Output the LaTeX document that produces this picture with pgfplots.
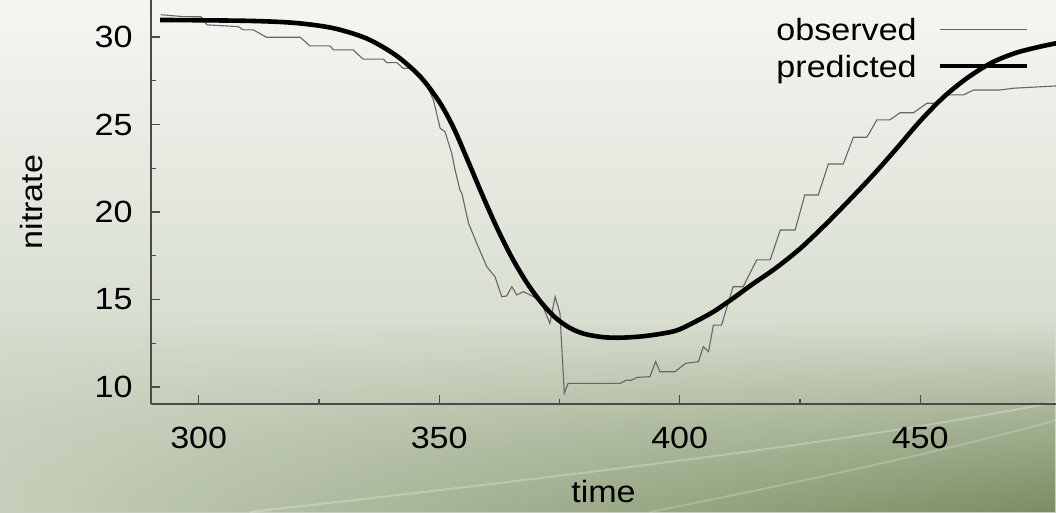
\documentclass[border=0pt]{standalone}
\usepackage{fontspec}
\setmainfont{Liberation Sans}[FakeStretch=1.11]
\usepackage{pgfplots}
\pgfplotsset{compat=1.18}
\usetikzlibrary{fadings}
\definecolor{bgTop}{HTML}{F5F6F2}
\definecolor{bgMid}{HTML}{EDF0E9}
\definecolor{bgBot}{HTML}{C6CFBB}
\definecolor{bgDark}{HTML}{7B8E62}
\definecolor{axisGrey}{HTML}{4A4A4A}
\newcommand\chartfont{\fontsize{30.7}{36}\selectfont}

\pgfplotsset{
  legend image code/.code={\draw[#1] (0pt,1pt) -- (87pt,1pt);},
}

\begin{document}
\begin{tikzpicture}[x=1pt,y=1pt]
% background
\shade[top color=bgTop, middle color=bgMid, bottom color=bgBot] (0,0) rectangle (1056,512);
\shade[left color=bgBot, right color=bgDark, path fading=north] (0,0) rectangle (1056,190);
\draw[white, opacity=0.25, line width=2pt] (250,0) .. controls (600,40) and (850,70) .. (1056,110);
\draw[white, opacity=0.2, line width=2pt] (650,0) .. controls (850,40) and (980,70) .. (1056,92);

\begin{axis}[
  at={(151pt,108pt)}, anchor=south west,
  scale only axis, width=905pt, height=404pt,
  xmin=290.08, xmax=478.23, ymin=9.03, ymax=32.11,
  axis x line=bottom, axis y line=left,
  axis line style={-, line width=1.6pt, draw=axisGrey},
  tick align=inside,
  xtick={300,350,400,450}, ytick={10,15,20,25,30},
  minor x tick num=1, minor y tick num=1,
  major tick length=9pt, minor tick length=5pt,
  every tick/.style={axisGrey, line width=1.3pt},
  ticklabel style={font=\chartfont},
  xticklabel style={yshift=-20pt},
  yticklabel style={xshift=-15pt},
  /pgf/number format/assume math mode=true,
  xlabel={time}, ylabel={nitrate},
  label style={font=\chartfont},
  xlabel style={at={(axis description cs:0.5,-0.2178)}, anchor=center},
  ylabel style={at={(axis description cs:-0.1315,0.5)}, anchor=center},
  legend style={draw=none, fill=none, font=\chartfont,
    at={(axis description cs:0.974,0.965)}, anchor=north east,
    row sep=9pt, column sep=19pt},
  legend cell align=right,
  legend plot pos=right,
]
\addplot[line width=1.1pt, color=black!60, sharp plot] coordinates {
(292.1,31.27) (296.8,31.16) (300.5,31.15) (301.7,30.69) (308.2,30.59)
(309.3,30.40) (311.4,30.40) (314.1,29.98) (321.1,29.98) (323.1,29.49)
(327.3,29.49) (328.0,29.26) (332.1,29.26) (334.2,28.73) (338.4,28.73)
(339.1,28.53) (341.2,28.53) (342.5,28.21) (344.5,28.21) (345.7,27.89)
(346.7,27.64) (348.8,26.40) (350.2,24.78) (351.2,24.59) (352.6,23.35)
(353.3,22.40) (354.3,21.26) (354.7,21.07) (356.1,19.35) (357.8,18.21)
(359.9,16.87) (361.6,16.30) (363.0,15.16) (364.0,15.20) (365.1,15.73)
(366.1,15.26) (367.5,15.45) (369.6,15.16) (371.3,14.78) (372.0,14.30)
(373.0,13.64) (374.1,15.16) (375.1,14.21) (376.0,9.64) (376.8,10.21)
(382.0,10.21) (387.6,10.21) (389.0,10.40) (389.9,10.38) (391.1,10.55)
(393.8,10.59) (395.0,11.45) (395.9,10.87) (399.0,10.87) (401.2,11.35)
(403.9,11.45) (404.9,12.30) (406.0,12.02) (407.0,13.54) (408.7,13.54)
(411.1,15.73) (413.2,15.73) (416.0,17.26) (418.8,17.26) (420.9,18.97)
(424.0,18.97) (426.0,20.97) (428.8,20.97) (430.9,22.74) (434.0,22.74)
(436.1,24.27) (438.9,24.27) (441.0,25.26) (443.7,25.26) (445.8,25.67)
(448.6,25.67) (451.4,26.21) (453.4,26.21) (455.5,26.69) (459.0,26.69)
(461.1,26.97) (466.6,26.97) (469.4,27.07) (478.2,27.20)
};
\addlegendentry{observed}
\addplot[line width=4.6pt, color=black, smooth] coordinates {
(292,30.97) (310,30.92) (320,30.80) (328,30.50) (335,29.90) (341,28.95)
(346,27.75) (350,26.30) (353,24.80) (356,22.90) (359,20.95) (362,19.10)
(365,17.45) (368,16.05) (371,14.90) (374,14.00) (377,13.40) (380,13.05)
(384,12.85) (388,12.82) (393,12.92) (399,13.20) (403,13.70) (407,14.30)
(411,15.05) (415,15.85) (420,16.80) (425,17.90) (430,19.20) (435,20.60)
(440,22.05) (445,23.60) (450,25.20) (455,26.60) (460,27.70) (465,28.55)
(470,29.10) (475,29.45) (478.5,29.65)
};
\addlegendentry{predicted}
\end{axis}
\pgfresetboundingbox
\path[use as bounding box] (0,0) rectangle (1056,512);
\end{tikzpicture}
\end{document}
